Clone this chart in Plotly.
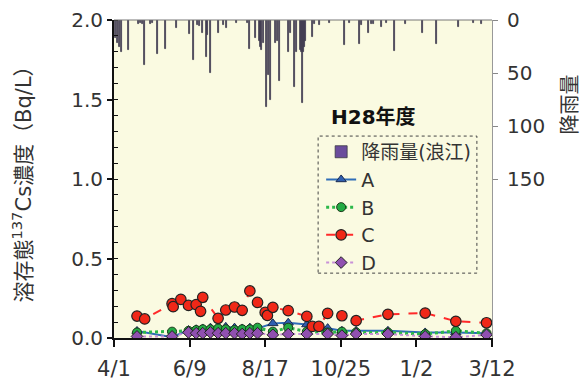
import plotly.graph_objects as go

# ---------------- data ----------------
rain_dates = ["2016-04-02", "2016-04-04", "2016-04-06", "2016-04-08", "2016-04-14", "2016-04-23",
              "2016-04-25", "2016-04-27", "2016-04-29", "2016-05-04", "2016-05-06", "2016-05-11",
              "2016-05-18", "2016-05-28", "2016-06-09", "2016-06-13", "2016-06-16", "2016-06-18",
              "2016-06-21", "2016-06-24", "2016-06-25", "2016-06-28", "2016-07-05", "2016-07-10",
              "2016-07-13", "2016-07-22", "2016-08-01", "2016-08-03", "2016-08-08", "2016-08-12",
              "2016-08-13", "2016-08-14", "2016-08-15", "2016-08-18", "2016-08-20", "2016-08-22",
              "2016-08-26", "2016-08-28", "2016-08-30", "2016-09-07", "2016-09-09", "2016-09-13",
              "2016-09-15", "2016-09-18", "2016-09-19", "2016-09-20", "2016-09-21", "2016-09-22",
              "2016-09-23", "2016-09-29", "2016-10-01", "2016-10-06", "2016-10-15", "2016-10-28",
              "2016-11-02", "2016-11-11", "2016-11-13", "2016-11-19", "2016-11-22", "2016-11-24",
              "2016-12-01", "2016-12-06", "2016-12-13", "2016-12-23", "2017-01-08", "2017-01-20",
              "2017-02-09", "2017-02-23", "2017-03-02"]
rain_mm = [17, 22, 25, 30, 28, 4,
           3, 4, 42, 4, 3, 32,
           27, 8, 13, 38, 5, 6,
           12, 35, 14, 50, 12, 5,
           8, 3, 3, 27, 17, 20,
           25, 28, 22, 82, 52, 75,
           22, 20, 58, 30, 12, 63,
           30, 28, 30, 78, 30, 25,
           20, 16, 4, 5, 3, 24,
           3, 23, 5, 12, 4, 4,
           7, 3, 29, 4, 12, 23,
           7, 3, 4]

c_dates = ["2016-04-22", "2016-04-29", "2016-05-24", "2016-05-25", "2016-06-01", "2016-06-08",
           "2016-06-15", "2016-06-19", "2016-06-21", "2016-07-05", "2016-07-12", "2016-07-20",
           "2016-07-27", "2016-08-03", "2016-08-10", "2016-08-17", "2016-08-19", "2016-08-24",
           "2016-09-07", "2016-09-24", "2016-09-29", "2016-10-05", "2016-10-13", "2016-10-26",
           "2016-11-08", "2016-12-07", "2017-01-10", "2017-02-07", "2017-03-07"]
c_vals = [0.138, 0.12, 0.216, 0.197, 0.243, 0.205,
          0.21, 0.168, 0.256, 0.124, 0.176, 0.195,
          0.174, 0.296, 0.224, 0.161, 0.142, 0.193,
          0.172, 0.136, 0.073, 0.073, 0.155, 0.14,
          0.109, 0.149, 0.157, 0.105, 0.096]

abd_dates = ["2016-04-22", "2016-05-24", "2016-06-08", "2016-06-15", "2016-06-21", "2016-06-28",
             "2016-07-05", "2016-07-12", "2016-07-20", "2016-07-27", "2016-08-03", "2016-08-10",
             "2016-08-24", "2016-09-07", "2016-09-24", "2016-10-13", "2016-10-26", "2016-11-08",
             "2016-12-07", "2017-01-10", "2017-02-07", "2017-03-07"]
a_vals = [0.044, 0.005, 0.05, 0.055, 0.06, 0.065, 0.065, 0.07, 0.065, 0.06, 0.065, 0.06,
          0.092, 0.096, 0.085, 0.062, 0.045, 0.045, 0.045, 0.035, 0.035, 0.03]
b_vals = [0.035, 0.04, 0.045, 0.05, 0.055, 0.055, 0.06, 0.055, 0.05, 0.055, 0.055, 0.065,
          0.04, 0.065, 0.04, 0.035, 0.04, 0.035, 0.035, 0.025, 0.045, 0.03]
d_vals = [0.01, 0.01, 0.035, 0.03, 0.03, 0.035, 0.03, 0.03, 0.03, 0.025, 0.03, 0.03,
          0.02, 0.025, 0.025, 0.025, 0.015, 0.025, 0.025, 0.01, 0.005, 0.02]

x_tick_vals = ["2016-04-01", "2016-06-09", "2016-08-17", "2016-10-25", "2017-01-02", "2017-03-12"]
x_tick_text = ["4/1", "6/9", "8/17", "10/25", "1/2", "3/12"]
y_tick_vals = [0.0, 0.5, 1.0, 1.5, 2.0]
rain_tick_vals = [0, 50, 100, 150]

FONT = "DejaVu Sans, Noto Sans CJK JP, sans-serif"
TXT = "#333333"

fig = go.Figure()

fig.add_trace(go.Bar(
    x=rain_dates, y=rain_mm, yaxis="y2", name="降雨量(浪江)",
    width=86400000 * 0.9,
    marker=dict(color="#6a4c9c", line=dict(color="#3a3a42", width=0.8)),
))

fig.add_trace(go.Scatter(
    x=abd_dates, y=a_vals, name="A", mode="lines+markers",
    line=dict(color="#2f6db8", width=2),
    marker=dict(symbol="triangle-up", size=9, color="#2f5fb0", line=dict(color="#1a2a50", width=1)),
))
fig.add_trace(go.Scatter(
    x=abd_dates, y=b_vals, name="B", mode="lines+markers",
    line=dict(color="#2cb84a", width=3, dash="dot"),
    marker=dict(symbol="circle", size=9, color="#22aa44", line=dict(color="#1a3a1a", width=1)),
))
fig.add_trace(go.Scatter(
    x=c_dates, y=c_vals, name="C", mode="lines+markers",
    line=dict(color="#ff2a2a", width=2, dash="dash"),
    marker=dict(symbol="circle", size=10.5, color="#f02818", line=dict(color="#222222", width=1.2)),
))
fig.add_trace(go.Scatter(
    x=abd_dates, y=d_vals, name="D", mode="lines+markers",
    line=dict(color="#c890d8", width=2, dash="dot"),
    marker=dict(symbol="diamond", size=9, color="#9050b0", line=dict(color="#222222", width=1)),
))

fig.update_layout(
    width=586, height=380,
    margin=dict(l=114, r=94, t=20, b=42, autoexpand=False),
    paper_bgcolor="white",
    plot_bgcolor="#FAFAE1",
    font=dict(family=FONT, size=19, color=TXT),
    showlegend=True,
    bargap=0,
    xaxis=dict(
        type="date",
        range=["2016-04-01", "2017-03-12"],
        tickmode="array", tickvals=x_tick_vals, ticktext=x_tick_text,
        ticks="outside", ticklen=7, tickwidth=1.5, tickcolor="#111111",
        ticklabelstandoff=4,
        showline=True, linecolor="#111111", linewidth=2,
        showgrid=False, zeroline=False, automargin=False,
        tickfont=dict(size=21, color=TXT),
    ),
    yaxis=dict(
        range=[0, 2.0],
        tickmode="array", tickvals=y_tick_vals, tickformat=".1f",
        ticks="outside", ticklen=5, tickwidth=1.5, tickcolor="#111111",
        minor=dict(dtick=0.1, ticks="inside", ticklen=4, tickwidth=1.2, tickcolor="#111111", showgrid=False),
        showline=True, linecolor="#111111", linewidth=2,
        showgrid=False, zeroline=False, automargin=False,
        tickfont=dict(size=20, color=TXT),
        title=dict(text="溶存態<sup>137</sup>Cs濃度（Bq/L）", font=dict(size=21, color=TXT), standoff=34),
    ),
    yaxis2=dict(
        overlaying="y", side="right",
        range=[300, 0],
        tickmode="array", tickvals=rain_tick_vals,
        ticks="outside", ticklen=5, tickwidth=1, tickcolor="#888888",
        ticklabelstandoff=5,
        showline=True, linecolor="#999999", linewidth=1,
        showgrid=False, zeroline=False, automargin=False,
        tickfont=dict(size=20, color=TXT),
    ),
    legend=dict(
        x=0.548, y=0.645, xanchor="left", yanchor="top",
        bgcolor="rgba(0,0,0,0)", borderwidth=0,
        font=dict(size=19, color=TXT),
        itemwidth=30, traceorder="normal",
        tracegroupgap=0,
    ),
    shapes=[
        dict(type="line", xref="paper", yref="paper", x0=0, x1=1, y0=1, y1=1,
             line=dict(color="#777777", width=1)),
        dict(type="rect", xref="paper", yref="paper", x0=0.54, x1=0.96, y0=0.204, y1=0.635,
             line=dict(color="#444444", width=1, dash="dot")),
    ],
    annotations=[
        dict(text="<b>H28年度</b>", xref="paper", yref="paper", x=0.57, y=0.695,
             xanchor="left", yanchor="middle", showarrow=False, font=dict(size=20, color="#111111")),
        dict(text="降雨量", xref="paper", yref="paper", x=1.205, y=0.736, textangle=-90,
             xanchor="center", yanchor="middle", showarrow=False, font=dict(size=20, color=TXT)),
    ],
)

fig.write_html(
    "out.html",
    config={"displayModeBar": False},
    post_script="document.body.style.margin='0';document.body.style.padding='0';",
)
